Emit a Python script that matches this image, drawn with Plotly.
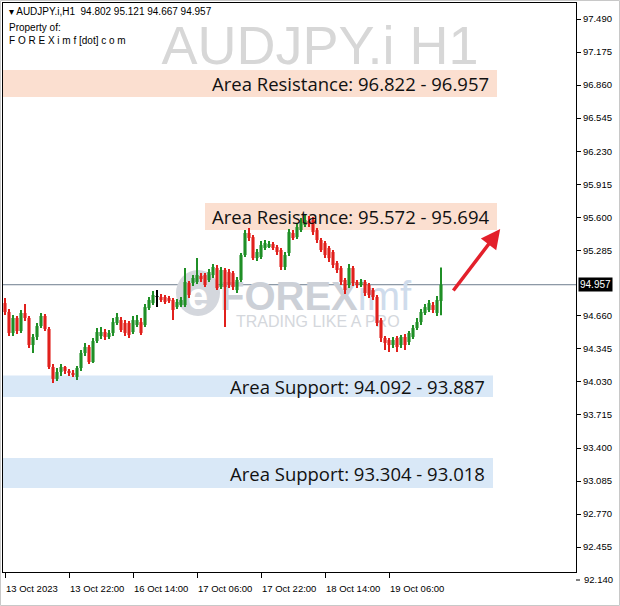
import plotly.graph_objects as go

# ---- data (AUDJPY.i H1 candles) ----
opens = [94.782, 94.697, 94.497, 94.640, 94.516, 94.687, 94.640, 94.382, 94.459, 94.563,
         94.659, 94.535, 94.173, 94.059, 94.125, 94.173, 94.135, 94.116, 94.078, 94.163,
         94.306, 94.363, 94.220, 94.420, 94.468, 94.506, 94.459, 94.497, 94.592, 94.620,
         94.592, 94.592, 94.506, 94.573, 94.601, 94.573, 94.735, 94.782, 94.840, 94.840,
         94.840, 94.830, 94.811, 94.744, 94.763, 94.763, 94.973, 94.973, 94.983, 95.040,
         95.049, 95.002, 95.049, 95.116, 94.935, 95.097, 95.078, 95.068, 94.906, 95.002,
         95.240, 95.450, 95.411, 95.211, 95.221, 95.307, 95.326, 95.345, 95.316, 95.288,
         95.126, 95.259, 95.450, 95.411, 95.478, 95.526, 95.564, 95.573, 95.478, 95.383,
         95.354, 95.307, 95.269, 95.164, 95.116, 95.002, 94.954, 95.116, 94.983, 94.954,
         94.983, 94.954, 94.906, 94.840, 94.620, 94.449, 94.430, 94.382, 94.449, 94.382,
         94.459, 94.411, 94.459, 94.544, 94.601, 94.687, 94.716, 94.763, 94.687, 94.802]
highs = [94.830, 94.725, 94.668, 94.659, 94.716, 94.773, 94.659, 94.487, 94.592, 94.687,
         94.678, 94.554, 94.201, 94.163, 94.201, 94.182, 94.154, 94.144, 94.182, 94.335,
         94.401, 94.382, 94.449, 94.544, 94.554, 94.535, 94.525, 94.640, 94.687, 94.649,
         94.620, 94.611, 94.659, 94.668, 94.640, 94.773, 94.840, 94.897, 94.906, 94.868,
         94.859, 94.849, 94.830, 94.821, 94.840, 95.116, 94.992, 95.049, 95.211, 95.068,
         95.068, 95.107, 95.154, 95.145, 95.126, 95.116, 95.107, 95.088, 95.030, 95.259,
         95.478, 95.497, 95.430, 95.297, 95.373, 95.383, 95.373, 95.364, 95.335, 95.307,
         95.269, 95.488, 95.478, 95.545, 95.593, 95.621, 95.612, 95.602, 95.497, 95.402,
         95.373, 95.326, 95.288, 95.183, 95.135, 95.021, 95.154, 95.135, 95.002, 95.011,
         95.002, 94.973, 94.925, 94.859, 94.640, 94.468, 94.449, 94.459, 94.468, 94.478,
         94.487, 94.516, 94.573, 94.640, 94.725, 94.773, 94.811, 94.792, 94.849, 95.121]
lows = [94.668, 94.468, 94.468, 94.487, 94.497, 94.611, 94.354, 94.306, 94.430, 94.544,
        94.516, 94.154, 94.020, 94.039, 94.087, 94.106, 94.087, 94.078, 94.049, 94.135,
        94.278, 94.201, 94.211, 94.401, 94.440, 94.430, 94.440, 94.468, 94.573, 94.506,
        94.468, 94.449, 94.487, 94.554, 94.478, 94.554, 94.716, 94.763, 94.744, 94.792,
        94.773, 94.782, 94.620, 94.725, 94.744, 94.744, 94.830, 94.944, 94.964, 94.983,
        94.935, 94.983, 95.021, 94.906, 94.916, 94.554, 94.925, 94.906, 94.878, 94.983,
        95.221, 95.373, 95.192, 95.183, 95.202, 95.288, 95.307, 95.288, 95.240, 95.097,
        95.097, 95.230, 95.383, 95.392, 95.459, 95.507, 95.507, 95.430, 95.354, 95.269,
        95.211, 95.173, 95.116, 95.068, 94.954, 94.868, 94.925, 94.944, 94.925, 94.935,
        94.849, 94.830, 94.811, 94.563, 94.411, 94.335, 94.316, 94.354, 94.316, 94.354,
        94.335, 94.382, 94.440, 94.525, 94.573, 94.668, 94.697, 94.687, 94.659, 94.667]
closes = [94.697, 94.497, 94.640, 94.516, 94.687, 94.640, 94.382, 94.459, 94.563, 94.659,
          94.535, 94.173, 94.059, 94.125, 94.173, 94.135, 94.116, 94.097, 94.163, 94.306,
          94.363, 94.220, 94.420, 94.506, 94.506, 94.459, 94.497, 94.601, 94.649, 94.525,
          94.497, 94.478, 94.620, 94.620, 94.497, 94.744, 94.811, 94.859, 94.840, 94.811,
          94.792, 94.801, 94.716, 94.792, 94.811, 94.983, 94.859, 95.021, 95.049, 95.011,
          94.954, 95.078, 95.126, 94.925, 95.097, 94.935, 94.954, 94.935, 95.002, 95.240,
          95.450, 95.402, 95.211, 95.269, 95.335, 95.354, 95.345, 95.307, 95.269, 95.126,
          95.240, 95.459, 95.402, 95.507, 95.554, 95.573, 95.535, 95.459, 95.383, 95.288,
          95.240, 95.211, 95.145, 95.097, 94.983, 94.906, 95.116, 94.973, 94.954, 94.983,
          94.878, 94.859, 94.840, 94.592, 94.449, 94.401, 94.382, 94.430, 94.363, 94.459,
          94.382, 94.497, 94.544, 94.601, 94.697, 94.744, 94.782, 94.716, 94.811, 94.957]

time_tick_bars = [0, 16, 32, 48, 64, 80, 96]
time_tick_labels = ["13 Oct 2023", "13 Oct 22:00", "16 Oct 14:00", "17 Oct 06:00",
                    "17 Oct 22:00", "18 Oct 14:00", "19 Oct 06:00"]
price_ticks = [92.455, 92.770, 93.085, 93.400, 93.715, 94.030, 94.345, 94.660,
               95.285, 95.600, 95.915, 96.230, 96.545, 96.860, 97.175, 97.490]
bottom_price_label = 92.140
last_price = 94.957

zone_labels = ["Area Resistance: 96.822 - 96.957", "Area Resistance: 95.572 - 95.694",
               "Area Support: 94.092 - 93.887", "Area Support: 93.304 - 93.018"]
zone_low = [96.746, 95.479, 93.887, 93.018]
zone_high = [97.004, 95.736, 94.092, 93.304]
zone_start_bar = [-0.5, 50, -0.5, -0.5]
zone_end_bar = [123, 123, 122, 122]
zone_colors = ["#fbdfd0", "#fbdfd0", "#d9e8f7", "#d9e8f7"]

GREEN = "#1f8f26"
RED = "#e1201c"

idx = list(range(len(opens)))
cols = [GREEN if c > o else (RED if c < o else "#000000") for o, c in zip(opens, closes)]

fig = go.Figure()
fig.add_trace(go.Bar(
    x=idx, base=lows, y=[h - l for h, l in zip(highs, lows)], width=0.28,
    marker=dict(color=cols, line=dict(width=0)), hoverinfo="skip"))
fig.add_trace(go.Bar(
    x=idx, base=[min(o, c) for o, c in zip(opens, closes)],
    y=[max(abs(c - o), 0.004) for o, c in zip(opens, closes)], width=0.78,
    marker=dict(color=cols, line=dict(width=0)), hoverinfo="skip"))

shapes = []
annotations = []
for lab, lo, hi, xs, xe, col in zip(zone_labels, zone_low, zone_high, zone_start_bar, zone_end_bar, zone_colors):
    shapes.append(dict(type="rect", xref="x", yref="y", x0=xs, x1=xe, y0=lo, y1=hi,
                       fillcolor=col, line=dict(width=0), layer="below"))
    annotations.append(dict(xref="x", yref="y", x=xe, y=(lo + hi) / 2, xanchor="right",
                            yanchor="middle", xshift=-6, showarrow=False, text=lab,
                            font=dict(family="Open Sans", size=18.5, color="#111111")))

# last-price horizontal line
shapes.append(dict(type="line", xref="paper", yref="y", x0=0, x1=1, y0=last_price, y1=last_price,
                   line=dict(color="#6d7d8d", width=1), layer="below"))

def px(xp):
    return (xp - 3) / 573.0

def py(yp):
    return (572 - yp) / 569.0

# watermarks (below candles)
shapes.append(dict(type="rect", xref="paper", yref="paper", x0=px(120), x1=px(520), y0=py(70), y1=py(10),
                   line=dict(width=0), fillcolor="rgba(0,0,0,0)", layer="below",
                   label=dict(text="AUDJPY.i H1", textposition="middle center",
                              font=dict(family="Liberation Sans", size=54, color="#d7d7d7"))))
shapes.append(dict(type="circle", xref="paper", yref="paper", x0=px(176), x1=px(220), y0=py(316), y1=py(270),
                   line=dict(width=0), fillcolor="#d4d7dd", layer="below",
                   label=dict(text="<b>e</b>", textposition="middle center",
                              font=dict(family="Liberation Sans", size=36, color="#ffffff"))))
shapes.append(dict(type="rect", xref="paper", yref="paper", x0=px(214), x1=px(420), y0=py(310), y1=py(274),
                   line=dict(width=0), fillcolor="rgba(0,0,0,0)", layer="below",
                   label=dict(text="<b>FOREX</b><span style='color:#cfdcec'>imf</span>",
                              textposition="middle left",
                              font=dict(family="Liberation Sans", size=40, color="#ccd0d7"))))
shapes.append(dict(type="rect", xref="paper", yref="paper", x0=px(230), x1=px(420), y0=py(327), y1=py(311),
                   line=dict(width=0), fillcolor="rgba(0,0,0,0)", layer="below",
                   label=dict(text="TRADING LIKE A PRO", textposition="middle left",
                              font=dict(family="Liberation Sans", size=16, color="#d4d7dc"))))

# outer screenshot frame
shapes.append(dict(type="rect", xref="paper", yref="paper", x0=px(0.5), x1=px(619.5), y0=py(605.5), y1=py(0.5),
                   line=dict(color="#c8c8c8", width=1), fillcolor="rgba(0,0,0,0)", layer="below"))

# bottom price label (sits just below the plotting area, like in MT4)
shapes.append(dict(type="line", xref="paper", yref="paper", x0=1, x1=px(580), y0=py(580), y1=py(580),
                   line=dict(color="#000000", width=1)))
annotations.append(dict(xref="paper", yref="paper", x=px(582), y=py(580), xanchor="left", yanchor="middle",
                        showarrow=False, text=f"{bottom_price_label:.3f}",
                        font=dict(family="Liberation Sans", size=9.5, color="#000000")))

# header texts
hdr_font = dict(family="Liberation Sans", size=10, color="#000000")
annotations += [
    dict(xref="paper", yref="paper", x=px(7), y=py(12), xanchor="left", yanchor="middle", showarrow=False,
         text="▾ AUDJPY.i,H1  94.802 95.121 94.667 94.957", font=hdr_font),
    dict(xref="paper", yref="paper", x=px(7), y=py(27), xanchor="left", yanchor="middle", showarrow=False,
         text="Property of:", font=hdr_font),
    dict(xref="paper", yref="paper", x=px(7), y=py(41), xanchor="left", yanchor="middle", showarrow=False,
         text="F O R E X i m f [dot] c o m", font=hdr_font),
]

# last price tag on the axis
annotations.append(dict(xref="paper", yref="y", x=1, y=last_price, xanchor="left", yanchor="middle",
                        xshift=2, showarrow=False, text="94.957", bgcolor="#000000", borderpad=1,
                        font=dict(family="Liberation Sans", size=10, color="#ffffff")))

# red arrow
annotations.append(dict(xref="x", yref="y", x=123.8, y=95.488, ax=-48, ay=63, text="",
                        showarrow=True, arrowhead=2, arrowsize=1.1, arrowwidth=3.5, arrowcolor="#e3202b"))

fig.update_layout(
    width=620, height=606,
    margin=dict(l=3, r=44, t=3, b=34),
    paper_bgcolor="#ffffff", plot_bgcolor="#ffffff",
    barmode="overlay", showlegend=False,
    shapes=shapes, annotations=annotations,
    xaxis=dict(range=[-0.5, 142.75], tickmode="array", tickvals=time_tick_bars, ticktext=time_tick_labels,
               ticks="outside", ticklen=5, tickcolor="#000000", ticklabelposition="outside right",
               ticklabelstandoff=8,
               showline=True, linecolor="#000000", linewidth=1, mirror=True, showgrid=False, zeroline=False,
               tickfont=dict(family="Liberation Sans", size=9.5, color="#000000")),
    yaxis=dict(range=[92.218, 97.643], side="right", tickmode="array", tickvals=price_ticks,
               ticktext=[f"{v:.3f}" for v in price_ticks],
               ticks="outside", ticklen=4, tickcolor="#000000",
               showline=True, linecolor="#000000", linewidth=1, mirror=True, showgrid=False, zeroline=False,
               tickfont=dict(family="Liberation Sans", size=9.5, color="#000000")),
)

fig.write_html("out.html", config={"displayModeBar": False},
               post_script="document.body.style.margin='0';document.body.style.padding='0';")
